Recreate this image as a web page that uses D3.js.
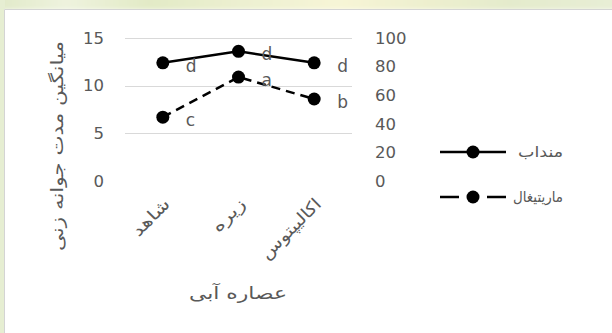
<!DOCTYPE html>
<html>
<head>
<meta charset="utf-8">
<script src="https://cdn.jsdelivr.net/npm/d3@7/dist/d3.min.js"></script>
<style>
  html, body { margin: 0; padding: 0; background: #ffffff; overflow: hidden; }
  svg { display: block; }
  text { font-family: "DejaVu Sans", sans-serif; fill: #595959; }
</style>
</head>
<body>
<svg id="chart" width="612" height="333"></svg>
<script>
// Aqueous extract treatments (x categories)
const categories = ["شاهد", "زیره", "اکالیپتوس"];
// Series names
const seriesNames = ["منداب", "ماریتیغال"];
// Mean germination time per treatment
const valuesMandab = [12.4, 13.6, 12.4];
const valuesMaritighal = [6.7, 10.9, 8.6];
// Significance letters
const lettersMandab = ["d", "d", "d"];
const lettersMaritighal = ["c", "a", "b"];
// Axis ticks
const leftTicks = [0, 5, 10, 15];
const rightTicks = [0, 20, 40, 60, 80, 100];
const gridTicks = [5, 10, 15];
const yTitle = "میانگین مدت جوانه زنی";
const xTitle = "عصاره آبی";

const svg = d3.select("#chart");

// Page backdrop: soft green band along the top and a thin strip on the left
const defs = svg.append("defs");
const grad = defs.append("linearGradient").attr("id", "band").attr("x1", 0).attr("x2", 1).attr("y1", 0).attr("y2", 0);
[[0, "#dfe8c6"], [0.12, "#eef3de"], [0.25, "#e2eac6"], [0.42, "#eef1d2"], [0.55, "#f7f5d6"], [0.68, "#eef0cf"], [0.82, "#e4ebcc"], [1, "#e8eed6"]]
  .forEach(([o, c]) => grad.append("stop").attr("offset", o).attr("stop-color", c));
defs.append("filter").attr("id", "soft").attr("x", "-10%").attr("y", "-50%").attr("width", "120%").attr("height", "200%")
  .append("feGaussianBlur").attr("stdDeviation", 2);

svg.append("rect").attr("x", -10).attr("y", -10).attr("width", 632).attr("height", 20)
  .attr("fill", "url(#band)").attr("filter", "url(#soft)");
svg.append("rect").attr("x", 0).attr("y", 0).attr("width", 5).attr("height", 333).attr("fill", "#e6eed2");

// Chart frame (white area, grey edge on top and left)
svg.append("rect").attr("x", 4).attr("y", 9).attr("width", 608).attr("height", 324).attr("fill", "#ffffff");
svg.append("path").attr("d", "M4.5,333V9.5H612").attr("fill", "none").attr("stroke", "#d4d4d4");

const plot = { left: 125, right: 352, top: 38, bottom: 181 };

const x = d3.scalePoint().domain(categories).range([plot.left, plot.right]).padding(0.5);
const y = d3.scaleLinear().domain([0, 15]).range([plot.bottom, plot.top]);
const y2 = d3.scaleLinear().domain([0, 100]).range([plot.bottom, plot.top]);

// Gridlines
svg.append("g").selectAll("line").data(gridTicks).join("line")
  .attr("x1", plot.left).attr("x2", plot.right)
  .attr("y1", d => Math.round(y(d)) + 0.5).attr("y2", d => Math.round(y(d)) + 0.5)
  .attr("stroke", "#d9d9d9").attr("stroke-width", 1);

// Left axis
const gl = svg.append("g").attr("transform", "translate(104,0)")
  .call(d3.axisLeft(y).tickValues(leftTicks).tickSize(0).tickPadding(0));
gl.select(".domain").remove();
gl.selectAll("text").attr("font-size", 16.5).attr("font-family", "DejaVu Sans").attr("fill", "#595959");

// Right axis
const gr = svg.append("g").attr("transform", "translate(375,0)")
  .call(d3.axisRight(y2).tickValues(rightTicks).tickSize(0).tickPadding(0));
gr.select(".domain").remove();
gr.selectAll("text").attr("font-size", 16.5).attr("font-family", "DejaVu Sans").attr("fill", "#595959");

// Category labels, slanted
const catWidths = [46, 40, 78];
svg.append("g").selectAll("text").data(categories).join("text")
  .attr("transform", d => `translate(${x(d) + 4},201) rotate(-45)`)
  .attr("text-anchor", "end").attr("dy", "0.35em")
  .attr("font-size", 16.5)
  .attr("textLength", (d, i) => catWidths[i]).attr("lengthAdjust", "spacingAndGlyphs")
  .text(d => d);

// Axis titles
svg.append("text").attr("x", 238).attr("y", 293).attr("text-anchor", "middle").attr("dy", "0.35em")
  .attr("font-size", 17).attr("textLength", 98).attr("lengthAdjust", "spacingAndGlyphs").text(xTitle);
svg.append("text").attr("transform", "translate(57,146) rotate(-90)")
  .attr("text-anchor", "middle").attr("dy", "0.35em").attr("font-size", 17)
  .attr("textLength", 210).attr("lengthAdjust", "spacingAndGlyphs").text(yTitle);

const line = d3.line().x((d, i) => x(categories[i])).y(d => y(d));
const series = [
  { name: seriesNames[0], values: valuesMandab, letters: lettersMandab, dash: null, legendY: 152, legendW: 45 },
  { name: seriesNames[1], values: valuesMaritighal, letters: lettersMaritighal, dash: "9,6", legendY: 197, legendW: 50 }
];

series.forEach(s => {
  const g = svg.append("g");
  g.append("path").datum(s.values).attr("d", line)
    .attr("fill", "none").attr("stroke", "#000").attr("stroke-width", 2.5)
    .attr("stroke-dasharray", s.dash);
  g.selectAll("circle").data(s.values).join("circle")
    .attr("cx", (d, i) => x(categories[i])).attr("cy", d => y(d)).attr("r", 6.5).attr("fill", "#000");
  g.selectAll("text").data(s.values).join("text")
    .attr("x", (d, i) => x(categories[i]) + 23).attr("y", d => y(d) + 3)
    .attr("dy", "0.35em").attr("font-size", 17)
    .text((d, i) => s.letters[i]);

  // Legend entry
  const lg = svg.append("g");
  lg.append("line").attr("x1", 440).attr("x2", 506).attr("y1", s.legendY).attr("y2", s.legendY)
    .attr("stroke", "#000").attr("stroke-width", 2.5).attr("stroke-dasharray", s.dash ? "19,14,0,14,19" : null);
  lg.append("circle").attr("cx", 473).attr("cy", s.legendY).attr("r", 6.5).attr("fill", "#000");
  lg.append("text").attr("x", 563).attr("y", s.legendY).attr("dy", "0.35em")
    .attr("text-anchor", "end").attr("font-size", 15)
    .attr("textLength", s.legendW).attr("lengthAdjust", "spacingAndGlyphs").text(s.name);
});
</script>
</body>
</html>
